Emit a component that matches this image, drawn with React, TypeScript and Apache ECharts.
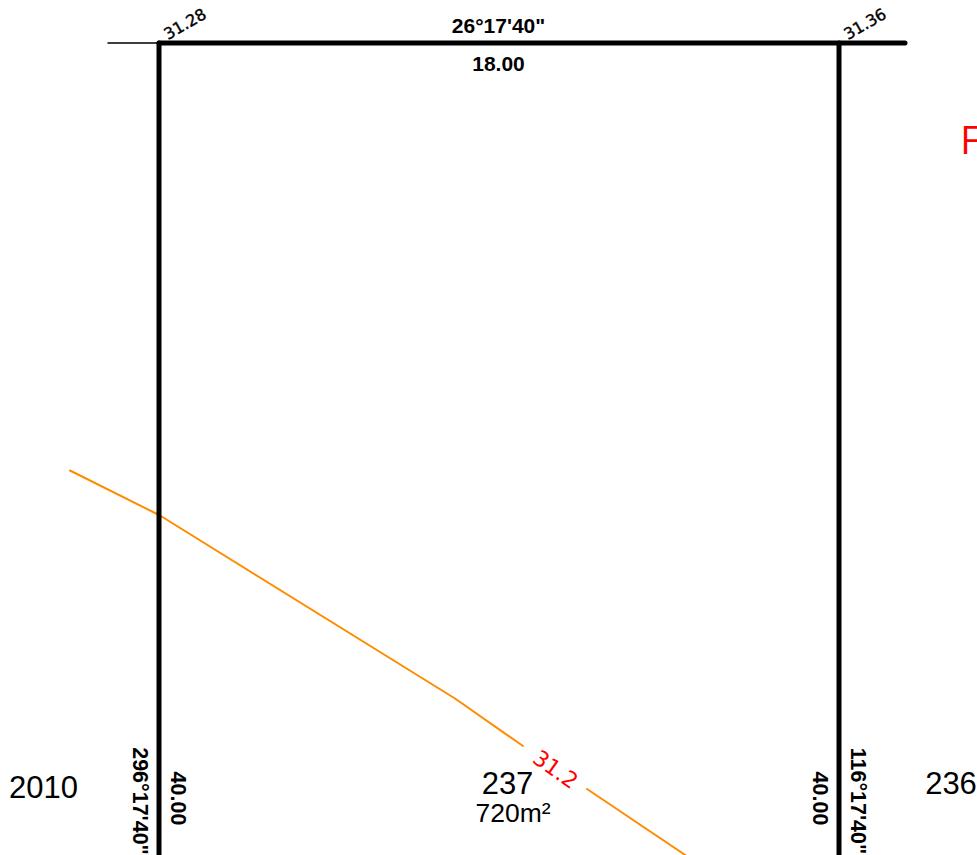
import React, { useEffect, useRef } from "react";
import * as echarts from "echarts";

const WIDTH = 977;
const HEIGHT = 855;

// Survey linework, as [x, y] in the drawing's own units
const leaderLine = [[108, 43], [159, 43]];
const topBoundary = [[159, 43], [905, 43]];
const leftBoundary = [[159, 43], [159, 860]];
const rightBoundary = [[839, 43], [839, 860]];
const contourWest = [[70, 470.5], [160, 515.5], [455, 698.5], [523, 746]];
const contourEast = [[587, 789], [686, 855.5]];

// Text annotations: [x, y, text, rotation]
const boldLabels: [number, number, string, number][] = [
  [498.5, 25, "26°17'40\"", 0],
  [498.5, 63, "18.00", 0],
  [139.5, 801, "296°17'40\"", -90],
  [178, 798.5, "40.00", -90],
  [820, 798.5, "40.00", -90],
  [857.5, 801, "116°17'40\"", -90],
];
const spotLevels: [number, number, string, number][] = [
  [185, 24, "31.28", 30],
  [865, 24, "31.36", 30],
];
const contourLabels: [number, number, string, number][] = [[555.5, 769.5, "31.2", -35]];
const lotLabels: [number, number, string, number][] = [
  [43.5, 787.5, "2010", 0],
  [507.5, 783, "237", 0],
  [951, 783, "236", 0],
];
const areaLabels: [number, number, string, number][] = [[513, 813, "720m²", 0]];
const sheetLabels: [number, number, string, number][] = [[970, 139, "F", 0]];

function lineSeries(data: number[][], color: string, width: number) {
  return {
    type: "line",
    data,
    symbol: "none",
    silent: true,
    clip: true,
    lineStyle: { color, width, cap: "round", join: "round" },
  };
}

function textSeries(
  rows: [number, number, string, number][],
  color: string,
  fontSize: number,
  fontFamily: string,
  fontWeight: string,
  strokeWidth = 0,
) {
  return {
    type: "scatter",
    symbolSize: 0,
    silent: true,
    clip: false,
    z: 5,
    itemStyle: { opacity: 1 },
    data: rows.map(([x, y, text, rotate]) => ({
      value: [x, y],
      label: {
        show: true,
        position: "inside",
        formatter: text,
        rotate,
        color,
        fontSize,
        fontFamily,
        fontWeight,
        align: "center",
        verticalAlign: "middle",
        textBorderColor: color,
        textBorderWidth: strokeWidth,
      },
    })),
  };
}

export default function App() {
  const ref = useRef<HTMLDivElement>(null);

  useEffect(() => {
    document.body.style.margin = "0";
    const chart = echarts.init(ref.current!, null, { renderer: "svg" });
    const sans = "Liberation Sans";
    chart.setOption({
      animation: false,
      backgroundColor: "#ffffff",
      grid: { left: 0, right: 0, top: 0, bottom: 0, containLabel: false, outerBoundsMode: "none" },
      xAxis: { type: "value", min: 0, max: WIDTH, show: false },
      yAxis: { type: "value", min: 0, max: HEIGHT, inverse: true, show: false },
      tooltip: { show: false },
      legend: { show: false },
      series: [
        lineSeries(contourWest, "#ff8c00", 2),
        lineSeries(contourEast, "#ff8c00", 2),
        lineSeries(leaderLine, "#000000", 1.5),
        lineSeries(leftBoundary, "#000000", 5),
        lineSeries(rightBoundary, "#000000", 5),
        lineSeries(topBoundary, "#000000", 5),
        textSeries(boldLabels.slice(0, 2), "#000000", 21, sans, "bold"),
        textSeries(boldLabels.slice(2), "#000000", 21.5, sans, "bold"),
        textSeries(spotLevels, "#000000", 16, "DejaVu Sans", "normal", 0.4),
        textSeries(contourLabels, "#ff0000", 22, "DejaVu Sans", "normal"),
        textSeries(lotLabels, "#000000", 31, sans, "normal"),
        textSeries(areaLabels, "#000000", 26.5, sans, "normal"),
        textSeries(sheetLabels, "#ff0000", 38, "Open Sans", "normal"),
      ],
    });
    return () => chart.dispose();
  }, []);

  return <div ref={ref} style={{ width: WIDTH, height: HEIGHT }} />;
}
